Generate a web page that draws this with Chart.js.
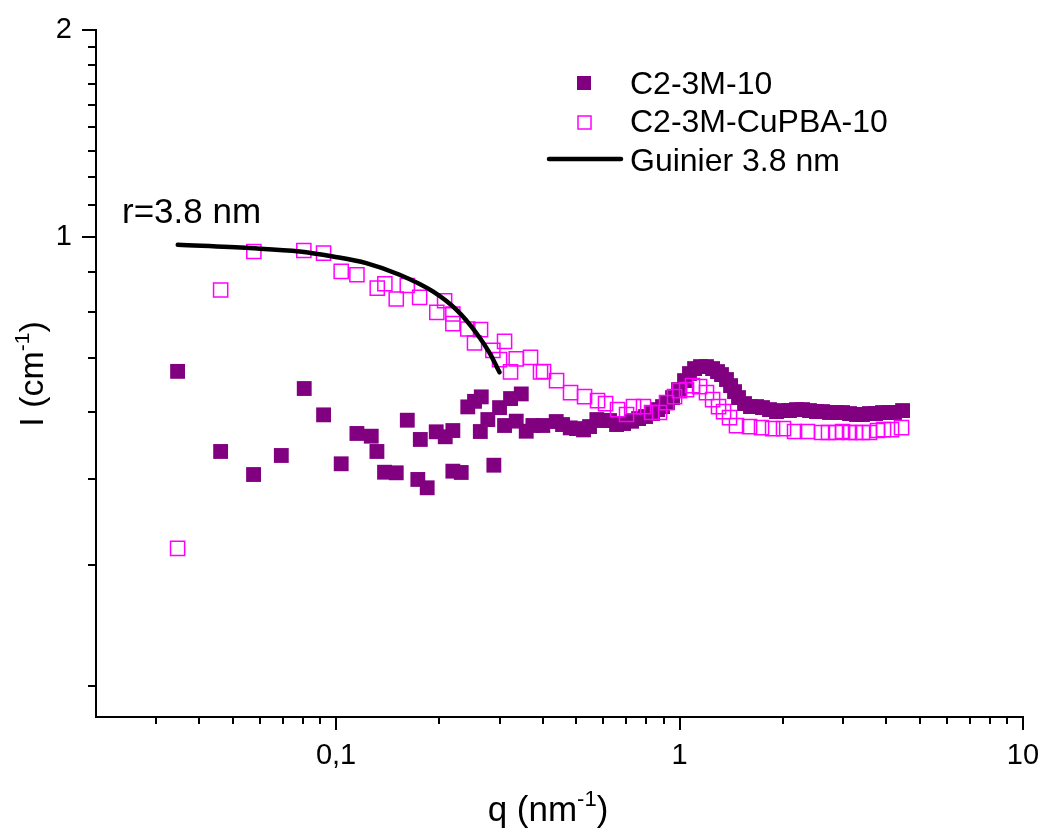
<!DOCTYPE html>
<html>
<head>
<meta charset="utf-8">
<script src="https://cdn.jsdelivr.net/npm/chart.js@4"></script>
<style>
  html, body { margin: 0; padding: 0; background: #fff; }
</style>
</head>
<body>
<canvas id="chart" width="1042" height="831"></canvas>
<script>
// C2-3M-10 (filled squares)
const qPlain = [0.03456, 0.04612, 0.05751, 0.06927, 0.08078, 0.09197, 0.1035, 0.1150, 0.1266, 0.1315,
  0.1384, 0.1497, 0.1612, 0.1730, 0.1759, 0.1842, 0.1957, 0.2079, 0.2188, 0.2188,
  0.2314, 0.2418, 0.2530, 0.2630, 0.2647, 0.2766, 0.2880, 0.2992, 0.3094, 0.3221,
  0.3346, 0.3461, 0.3578, 0.3741, 0.3999,
  0.4375, 0.4564, 0.4806, 0.5013, 0.5254, 0.5470, 0.5744, 0.6008, 0.6255, 0.6556,
  0.6871, 0.7249, 0.7598, 0.7962, 0.8345, 0.8630, 0.8923, 0.9227, 0.9541, 0.9933,
  1.034, 1.069, 1.106, 1.151, 1.198, 1.248, 1.290, 1.325, 1.370, 1.408,
  1.446, 1.485, 1.546, 1.609, 1.676, 1.744, 1.828, 1.916, 2.008, 2.090,
  2.191, 2.281, 2.390, 2.505, 2.608, 2.733, 2.865, 2.983, 3.126, 3.276,
  3.410, 3.573, 3.721, 3.899, 4.059, 4.226, 4.460];
const iPlain = [0.637, 0.487, 0.4508, 0.4805, 0.6014, 0.5506, 0.4673, 0.5173, 0.5126, 0.487,
  0.4543, 0.4534, 0.5408, 0.4434, 0.507, 0.4312, 0.5202, 0.5116, 0.5224, 0.4559,
  0.4539, 0.5655, 0.5761, 0.5207, 0.5848, 0.542, 0.4651, 0.5641, 0.5313, 0.5815,
  0.5391, 0.5906, 0.5212, 0.5313, 0.5313,
  0.5384, 0.533, 0.5271, 0.5258, 0.5235, 0.5294, 0.542, 0.5402, 0.5402, 0.533,
  0.5348, 0.5389, 0.5438, 0.5475, 0.553, 0.5604, 0.5661, 0.5737, 0.5834, 0.5992,
  0.6176, 0.6323, 0.643, 0.6473, 0.6473, 0.643, 0.6366, 0.6302, 0.6198, 0.6073,
  0.5952, 0.5834, 0.5718, 0.5661, 0.5661, 0.5642, 0.5604, 0.5567, 0.5586, 0.5586,
  0.5604, 0.5604, 0.5586, 0.5567, 0.5567, 0.5549, 0.5549, 0.5549, 0.553, 0.5512,
  0.5512, 0.553, 0.553, 0.5549, 0.5549, 0.5549, 0.5586];

// C2-3M-CuPBA-10 (open squares)
const qCu = [0.03456, 0.04612, 0.05763, 0.08057, 0.09197, 0.1035, 0.1150, 0.1318, 0.1387, 0.1497,
  0.1612, 0.1751, 0.1965, 0.2070, 0.2188, 0.2188, 0.2418, 0.2530, 0.2634, 0.2861,
  0.2992, 0.3094, 0.3221, 0.3346, 0.3683, 0.3938,
  0.4018, 0.4385, 0.4816, 0.5290, 0.5772, 0.6090, 0.6600, 0.7010, 0.7346, 0.7855,
  0.8289, 0.8745, 0.9166, 0.9670, 1.000, 1.048, 1.091, 1.144, 1.198, 1.248,
  1.299, 1.343, 1.398, 1.465, 1.599, 1.733, 1.866, 2.008, 2.162, 2.358,
  2.591, 2.715, 2.865, 2.983, 3.126, 3.254, 3.410, 3.573, 3.771, 3.926,
  4.142, 4.430];
const iCu = [0.352, 0.8366, 0.952, 0.9552, 0.9469, 0.8905, 0.8806, 0.8421, 0.8543, 0.8118,
  0.8495, 0.8162, 0.7762, 0.8071, 0.7721, 0.7474, 0.7343, 0.7005, 0.7326, 0.6834,
  0.6625, 0.7043, 0.6359, 0.6641, 0.6677, 0.6359,
  0.6366, 0.6176, 0.5932, 0.5853, 0.5775, 0.5718, 0.5604, 0.5512, 0.5661, 0.5661,
  0.5549, 0.5549, 0.5737, 0.5853, 0.5972, 0.5992, 0.6073, 0.6053, 0.5932, 0.5795,
  0.5661, 0.5567, 0.5456, 0.5312, 0.5294, 0.5276, 0.5258, 0.5258, 0.5207, 0.5207,
  0.5189, 0.5189, 0.5189, 0.5207, 0.5189, 0.5189, 0.5189, 0.5189, 0.5224, 0.5241,
  0.5241, 0.5276];

// Guinier 3.8 nm curve
const qGuinier = [0.0346, 0.0560, 0.0783, 0.0979, 0.1224, 0.1531, 0.1913, 0.2239, 0.2560, 0.2798, 0.2992];
const iGuinier = [0.9736, 0.9629, 0.9520, 0.9362, 0.9158, 0.8806, 0.8327, 0.7832, 0.7244, 0.6776, 0.6350];

const seriesNames = ["C2-3M-10", "C2-3M-CuPBA-10", "Guinier 3.8 nm"];

// axes
const xMajor = [0.1, 1, 10];
const xTickLabels = ["0,1", "1", "10"];
const xMinor = [0.03, 0.04, 0.05, 0.06, 0.07, 0.08, 0.09, 0.2, 0.3, 0.4, 0.5, 0.6, 0.7, 0.8, 0.9,
  2, 3, 4, 5, 6, 7, 8, 9];
const yMajor = [1, 2];
const yTickLabels = ["1", "2"];
const yMinor = [0.2222, 0.3333, 0.4444, 0.5556, 0.6667, 0.7778, 0.8889,
  1.1111, 1.2222, 1.3333, 1.4444, 1.5556, 1.6667, 1.7778, 1.8889];

const FONT = "'Liberation Sans', Arial, Helvetica, sans-serif";
const PURPLE = "#800080";
const MAGENTA = "#ff00ff";

const toPoints = (xs, ys) => xs.map((x, i) => ({ x: x, y: ys[i] }));

function buildTicks(majors, minors) {
  return majors.map(v => ({ value: v, major: true }))
    .concat(minors.map(v => ({ value: v, major: false })))
    .sort((a, b) => a.value - b.value);
}

// draws text with a "-1" style superscript part, centred on x
function drawParts(ctx, parts, size, x, y) {
  const sup = Math.round(size * 0.62);
  let w = 0;
  parts.forEach(p => {
    ctx.font = (p.sup ? sup : size) + "px " + FONT;
    w += ctx.measureText(p.t).width;
  });
  let cx = x - w / 2;
  parts.forEach(p => {
    ctx.font = (p.sup ? sup : size) + "px " + FONT;
    ctx.fillText(p.t, cx, p.sup ? y - size * 0.42 : y);
    cx += ctx.measureText(p.t).width;
  });
}

const decor = {
  id: "decor",
  afterDraw(chart) {
    const ctx = chart.ctx;
    const xs = chart.scales.x, ys = chart.scales.y;
    const area = chart.chartArea;
    ctx.save();
    ctx.strokeStyle = "#000";
    ctx.lineWidth = 2;
    ctx.lineCap = "butt";
    // tick marks, pointing outwards
    xs.ticks.forEach(t => {
      const px = Math.round(xs.getPixelForValue(t.value));
      const len = t.major ? 13 : 7;
      ctx.beginPath();
      ctx.moveTo(px, area.bottom);
      ctx.lineTo(px, area.bottom + len);
      ctx.stroke();
    });
    ys.ticks.forEach(t => {
      const py = Math.round(ys.getPixelForValue(t.value));
      const len = t.major ? 14 : 8;
      ctx.beginPath();
      ctx.moveTo(area.left, py);
      ctx.lineTo(area.left - len, py);
      ctx.stroke();
    });

    ctx.fillStyle = "#000";
    ctx.textBaseline = "alphabetic";
    ctx.textAlign = "left";
    // axis titles
    drawParts(ctx, [{ t: "q (nm" }, { t: "-1", sup: true }, { t: ")" }], 35, 548, 821);
    ctx.save();
    ctx.translate(43, 374);
    ctx.rotate(-Math.PI / 2);
    drawParts(ctx, [{ t: "I (cm" }, { t: "-1", sup: true }, { t: ")" }], 34, 0, 0);
    ctx.restore();

    // annotation
    ctx.font = "35px " + FONT;
    ctx.fillText("r=3.8 nm", 122, 223);

    // legend
    ctx.fillStyle = PURPLE;
    ctx.fillRect(577, 76, 14, 14);
    ctx.fillStyle = "#fff";
    ctx.strokeStyle = MAGENTA;
    ctx.lineWidth = 1.5;
    ctx.fillRect(578, 116, 13, 13);
    ctx.strokeRect(578, 116, 13, 13);
    ctx.strokeStyle = "#000";
    ctx.lineWidth = 4.5;
    ctx.lineCap = "round";
    ctx.beginPath();
    ctx.moveTo(549, 159);
    ctx.lineTo(621, 159);
    ctx.stroke();
    ctx.fillStyle = "#000";
    ctx.font = "32px " + FONT;
    ctx.fillText(seriesNames[0], 630, 94);
    ctx.fillText(seriesNames[1], 630, 132);
    ctx.fillText(seriesNames[2], 630, 171);
    ctx.restore();
  }
};

const ctx = document.getElementById("chart").getContext("2d");
new Chart(ctx, {
  type: "scatter",
  data: {
    datasets: [
      {
        label: seriesNames[2],
        data: toPoints(qGuinier, iGuinier),
        showLine: true,
        borderColor: "#000",
        borderWidth: 4.5,
        borderCapStyle: "round",
        cubicInterpolationMode: "monotone",
        pointRadius: 0,
        order: 0,
      },
      {
        label: seriesNames[1],
        data: toPoints(qCu, iCu),
        pointStyle: "rect",
        pointRadius: 10,
        pointBorderWidth: 1.5,
        pointBorderColor: MAGENTA,
        pointBackgroundColor: "rgba(255,255,255,0)",
        order: 1,
      },
      {
        label: seriesNames[0],
        data: toPoints(qPlain, iPlain),
        pointStyle: "rect",
        pointRadius: 10.5,
        pointBorderWidth: 0,
        pointBackgroundColor: PURPLE,
        order: 2,
      },
    ],
  },
  options: {
    responsive: false,
    animation: false,
    layout: { padding: { top: 30, right: 19, left: 0, bottom: 0 } },
    plugins: { legend: { display: false }, tooltip: { enabled: false } },
    scales: {
      x: {
        type: "logarithmic",
        min: 0.02,
        max: 10,
        afterFit: (s) => { s.height = 114; s.paddingLeft = 0; s.paddingRight = 0; },
        afterBuildTicks: (s) => { s.ticks = buildTicks(xMajor, xMinor); },
        grid: { display: false, drawTicks: false },
        border: { display: true, color: "#000", width: 2 },
        ticks: {
          autoSkip: false,
          maxRotation: 0,
          padding: 22,
          color: "#000",
          font: { family: FONT, size: 29 },
          callback: (v) => {
            const k = xMajor.indexOf(v);
            return k >= 0 ? xTickLabels[k] : "";
          },
        },
      },
      y: {
        type: "logarithmic",
        min: 0.2,
        max: 2,
        afterFit: (s) => { s.width = 96; s.paddingTop = 0; s.paddingBottom = 0; },
        afterBuildTicks: (s) => { s.ticks = buildTicks(yMajor, yMinor); },
        grid: { display: false, drawTicks: false },
        border: { display: true, color: "#000", width: 2 },
        ticks: {
          autoSkip: false,
          padding: 24,
          color: "#000",
          font: { family: FONT, size: 29 },
          callback: (v) => {
            const k = yMajor.indexOf(v);
            return k >= 0 ? yTickLabels[k] : "";
          },
        },
      },
    },
  },
  plugins: [decor],
});
</script>
</body>
</html>
